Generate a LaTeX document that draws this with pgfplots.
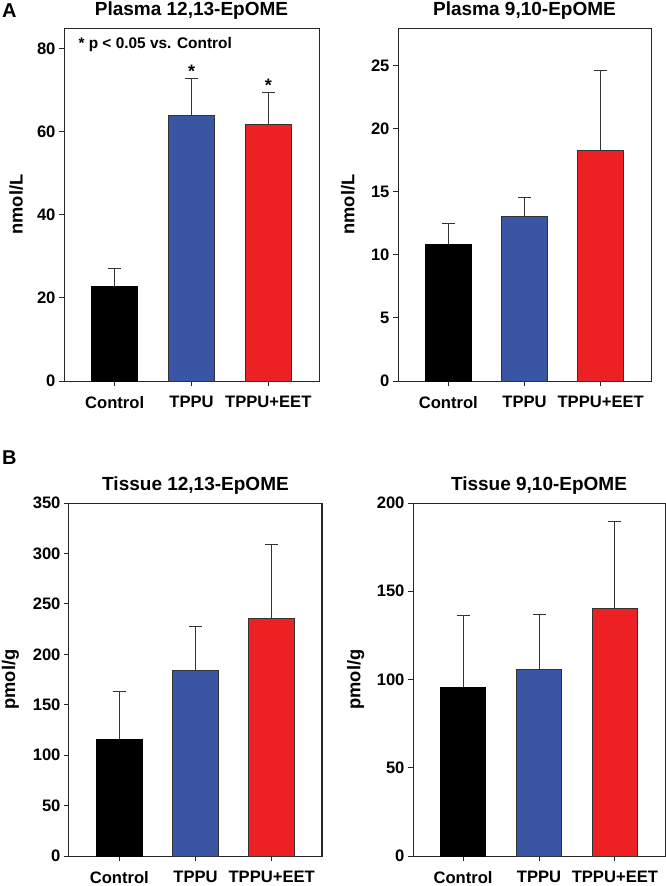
\documentclass[border=0pt]{standalone}
\usepackage{fontspec}
\setmainfont{Liberation Sans}
\usepackage{pgfplots}
\pgfplotsset{compat=1.18}

\definecolor{ctrlc}{RGB}{0,0,0}
\definecolor{tppuc}{RGB}{58,85,164}
\definecolor{eetc}{RGB}{237,32,36}

\newcommand{\tickfont}{\bfseries\fontsize{16.6}{18}\selectfont}
\newcommand{\titlefont}{\bfseries\fontsize{19}{22}\selectfont}
\newcommand{\labfont}{\bfseries\fontsize{18.3}{20}\selectfont}

\pgfplotsset{
  panel/.style={
    scale only axis, height=353pt,
    xmin=-0.66, xmax=2.66, ymin=0,
    xtick={0,1,2}, xticklabels={Control,TPPU,TPPU+EET},
    ybar, bar width=0.6, bar shift=0pt,
    axis line style={line width=1pt, black!85},
    tick align=outside, tick pos=left, major tick length=5pt,
    every tick/.style={black!85, line width=1pt},
    ticklabel style={font=\tickfont},
    xticklabel style={yshift=-6.5pt},
    /pgf/number format/assume math mode=true,
    title style={at={(0.5,1)}, anchor=base, yshift=7pt, font=\titlefont},
    ylabel style={anchor=center, font=\labfont},
  },
  errbar/.style={error bars/.cd, y dir=plus, y explicit,
    error bar style={line width=1pt, black!80},
    error mark options={rotate=90, line width=1pt, black!80, mark size=6.5pt}},
  ctrl/.style={fill=ctrlc, draw=black, line width=0.8pt, errbar},
  tppu/.style={fill=tppuc, draw=black!80, line width=0.8pt, errbar},
  eet/.style={fill=eetc, draw=black!80, line width=0.8pt, errbar},
}

\begin{document}
\begin{tikzpicture}
\path[use as bounding box] (0,0) rectangle (666pt,-886pt);

% A: plasma
\begin{axis}[panel, at={(64pt,-381pt)}, anchor=south west, width=255pt,
  ymax=85, ytick={0,20,40,60,80},
  title={Plasma 12,13-EpOME}, ylabel={nmol/L},
  ylabel style={at={(axis description cs:-0.188,0.5)}}]
\addplot[ctrl] coordinates {(0,22.8) +- (0,4.4)};
\addplot[tppu] coordinates {(1,64.0) +- (0,8.9)};
\addplot[eet] coordinates {(2,61.9) +- (0,7.6)};
\node[anchor=base west, font=\bfseries\fontsize{15.4}{17}\selectfont]
  at (rel axis cs:0,1) [xshift=11pt, yshift=-20pt] {* p < 0.05 vs. Control};
\node[anchor=south, inner sep=0pt, font=\bfseries\fontsize{18}{18}\selectfont]
  at (axis cs:1,72.9) [yshift=1pt] {*};
\node[anchor=south, inner sep=0pt, font=\bfseries\fontsize{18}{18}\selectfont]
  at (axis cs:2,69.5) [yshift=1pt] {*};
\end{axis}

\begin{axis}[panel, at={(398pt,-381pt)}, anchor=south west, width=253pt,
  ymax=28, ytick={0,5,10,15,20,25},
  title={Plasma 9,10-EpOME}, ylabel={nmol/L},
  ylabel style={at={(axis description cs:-0.198,0.5)}}]
\addplot[ctrl] coordinates {(0,10.87) +- (0,1.59)};
\addplot[tppu] coordinates {(1,13.07) +- (0,1.45)};
\addplot[eet] coordinates {(2,18.33) +- (0,6.27)};
\end{axis}

% B: tissue
\begin{axis}[panel, at={(69pt,-856pt)}, anchor=south west, width=253pt,
  ymax=350, ytick={0,50,100,150,200,250,300,350},
  title={Tissue 12,13-EpOME}, ylabel={pmol/g},
  ylabel style={at={(axis description cs:-0.231,0.5)}}]
\addplot[ctrl] coordinates {(0,115.9) +- (0,46.9)};
\addplot[tppu] coordinates {(1,183.6) +- (0,43.6)};
\addplot[eet] coordinates {(2,235.5) +- (0,72.9)};
\end{axis}

\begin{axis}[panel, at={(413pt,-856pt)}, anchor=south west, width=252pt,
  ymax=200, ytick={0,50,100,150,200},
  title={Tissue 9,10-EpOME}, ylabel={pmol/g},
  ylabel style={at={(axis description cs:-0.227,0.5)}}]
\addplot[ctrl] coordinates {(0,95.8) +- (0,40.2)};
\addplot[tppu] coordinates {(1,105.8) +- (0,31.3)};
\addplot[eet] coordinates {(2,140.5) +- (0,49.3)};
\end{axis}

\node[anchor=north west, inner sep=0pt, font=\bfseries\fontsize{20}{22}\selectfont] at (2pt,-4pt) {A};
\node[anchor=north west, inner sep=0pt, font=\bfseries\fontsize{20}{22}\selectfont] at (2pt,-451pt) {B};
\end{tikzpicture}
\end{document}
